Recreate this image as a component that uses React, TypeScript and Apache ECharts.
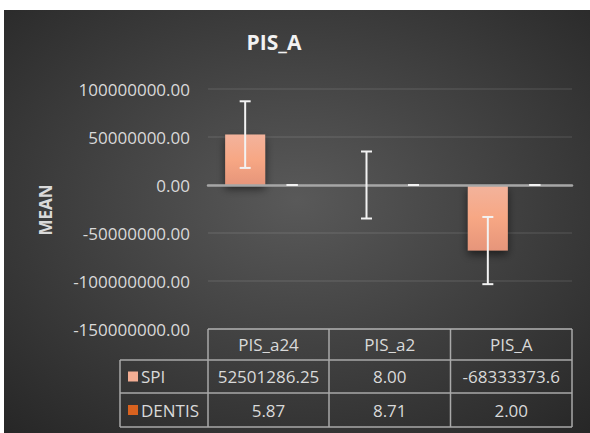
import React, { useEffect, useRef } from "react";
import * as echarts from "echarts";

const categories = ["PIS_a24", "PIS_a2", "PIS_A"];
const spiValues = [52501286.25, 8.0, -68333373.6];
const dentisValues = [5.87, 8.71, 2.0];
const spiErrLow = [17800000, -34900000, -103300000];
const spiErrHigh = [87200000, 34900000, -33300000];
const dentisErrLow = [-5, -5, -5];
const dentisErrHigh = [17, 22, 9];
const spiTableLabels = ["52501286.25", "8.00", "-68333373.6"];
const dentisTableLabels = ["5.87", "8.71", "2.00"];
const seriesNames = ["SPI", "DENTIS"];
const yTicks = { min: -150000000, max: 100000000, interval: 50000000 };

const FONT = "'Open Sans', 'Noto Sans', sans-serif";
const TEXT_COLOR = "#d9d9d9";
const BAR_WIDTH = 40;
const GAP_PX = 7;

export default function App() {
  const ref = useRef<HTMLDivElement>(null);

  useEffect(() => {
    document.body.style.margin = "0";
    if (!ref.current) return;
    const chart = echarts.init(ref.current, undefined, { renderer: "svg" });

    const gridLeft = 208;
    const gridRight = 572;
    const gridTop = 89;
    const gridBottom = 329;
    const colX = [208, 329, 450.5, 572];
    const legendLeft = 120;
    const rowY = [329, 360, 393, 427];
    const lineColor = "#a9a9a9";

    const errSeries = (name: string, low: number[], high: number[], offset: number) => ({
      type: "custom",
      name: name + "_err",
      z: 5,
      data: low.map((l, i) => [i, l, high[i]]),
      encode: { x: 0, y: [1, 2] },
      renderItem: (params: any, api: any) => {
        const i = api.value(0);
        const cx = api.coord([i, 0])[0] + offset;
        const y1 = api.coord([i, api.value(1)])[1];
        const y2 = api.coord([i, api.value(2)])[1];
        const st = { stroke: "#f2f2f2", lineWidth: 2 };
        return {
          type: "group",
          children: [
            { type: "line", shape: { x1: cx, y1: y1, x2: cx, y2: y2 }, style: st },
            { type: "line", shape: { x1: cx - 5.5, y1: y1, x2: cx + 5.5, y2: y1 }, style: st },
            { type: "line", shape: { x1: cx - 5.5, y1: y2, x2: cx + 5.5, y2: y2 }, style: st },
          ],
        };
      },
    });

    const offset = BAR_WIDTH / 2 + GAP_PX / 2;

    const graphics: any[] = [
      {
        type: "rect",
        z: -100,
        silent: true,
        shape: { x: 4, y: 10, width: 586, height: 423 },
        style: {
          fill: {
            type: "radial",
            x: 0.5,
            y: 0.45,
            r: 0.75,
            colorStops: [
              { offset: 0, color: "#595959" },
              { offset: 1, color: "#262626" },
            ],
          },
        },
      },
      {
        type: "text",
        x: 274,
        y: 42,
        style: {
          text: "PIS_A",
          font: `bold 21px ${FONT}`,
          fill: "#f2f2f2",
          align: "center",
          verticalAlign: "middle",
        },
      },
      {
        type: "text",
        x: 45,
        y: 210,
        rotation: Math.PI / 2,
        style: {
          text: "MEAN",
          font: `bold 17px ${FONT}`,
          fill: "#d9d9d9",
          align: "center",
          verticalAlign: "middle",
        },
      },
    ];

    const ls = { stroke: lineColor, lineWidth: 1.5 };
    graphics.push({ type: "line", shape: { x1: colX[0], y1: rowY[0], x2: colX[3], y2: rowY[0] }, style: ls });
    for (let r = 1; r < rowY.length; r++) {
      graphics.push({ type: "line", shape: { x1: legendLeft, y1: rowY[r], x2: colX[3], y2: rowY[r] }, style: ls });
    }
    graphics.push({ type: "line", shape: { x1: legendLeft, y1: rowY[1], x2: legendLeft, y2: rowY[3] }, style: ls });
    colX.forEach((x) => {
      graphics.push({ type: "line", shape: { x1: x, y1: rowY[0], x2: x, y2: rowY[3] }, style: ls });
    });

    const cellText = (text: string, x: number, y: number, align = "center") => ({
      type: "text",
      x,
      y,
      style: { text, font: `17px ${FONT}`, fill: TEXT_COLOR, align, verticalAlign: "middle" },
    });

    categories.forEach((c, i) => {
      const cx = (colX[i] + colX[i + 1]) / 2;
      graphics.push(cellText(c, cx, (rowY[0] + rowY[1]) / 2));
      graphics.push(cellText(spiTableLabels[i], cx, (rowY[1] + rowY[2]) / 2));
      graphics.push(cellText(dentisTableLabels[i], cx, (rowY[2] + rowY[3]) / 2));
    });

    const legendColors = ["#f4ae94", "#d9621f"];
    seriesNames.forEach((n, k) => {
      const cy = (rowY[k + 1] + rowY[k + 2]) / 2;
      graphics.push({
        type: "rect",
        shape: { x: 128, y: cy - 5, width: 10, height: 10 },
        style: { fill: legendColors[k] },
      });
      graphics.push(cellText(n, 141, cy, "left"));
    });

    chart.setOption({
      animation: false,
      backgroundColor: "#ffffff",
      grid: {
        left: gridLeft,
        right: 590 - gridRight,
        top: gridTop,
        bottom: 433 - gridBottom,
      },
      xAxis: {
        type: "category",
        data: categories,
        axisLine: { show: true, onZero: true, lineStyle: { color: "#a6a6a6", width: 2.5 } },
        axisTick: { show: false },
        axisLabel: { show: false },
        splitLine: { show: false },
        z: 3,
      },
      yAxis: {
        type: "value",
        min: yTicks.min,
        max: yTicks.max,
        interval: yTicks.interval,
        axisLine: { show: false },
        axisTick: { show: false },
        axisLabel: {
          color: TEXT_COLOR,
          fontSize: 17,
          fontFamily: FONT,
          margin: 18,
          formatter: (v: number) => v.toFixed(2),
        },
        splitLine: { lineStyle: { color: "rgba(255,255,255,0.1)", width: 1.5 } },
      },
      series: [
        {
          type: "bar",
          name: "SPI",
          data: spiValues,
          barWidth: BAR_WIDTH,
          barGap: `${(GAP_PX / BAR_WIDTH) * 100}%`,
          itemStyle: {
            color: new echarts.graphic.LinearGradient(0, 0, 0, 1, [
              { offset: 0, color: "#f3b39c" },
              { offset: 0.5, color: "#f7a784" },
              { offset: 1, color: "#e6957a" },
            ]),
            shadowColor: "rgba(0,0,0,0.55)",
            shadowBlur: 8,
            shadowOffsetY: 4,
          },
        },
        {
          type: "bar",
          name: "DENTIS",
          data: dentisValues,
          barWidth: BAR_WIDTH,
          itemStyle: { color: "#d9621f" },
        },
        errSeries("SPI", spiErrLow, spiErrHigh, -offset),
        errSeries("DENTIS", dentisErrLow, dentisErrHigh, offset),
      ],
      graphic: graphics,
    });

    return () => chart.dispose();
  }, []);

  return <div ref={ref} style={{ width: 590, height: 433 }} />;
}
